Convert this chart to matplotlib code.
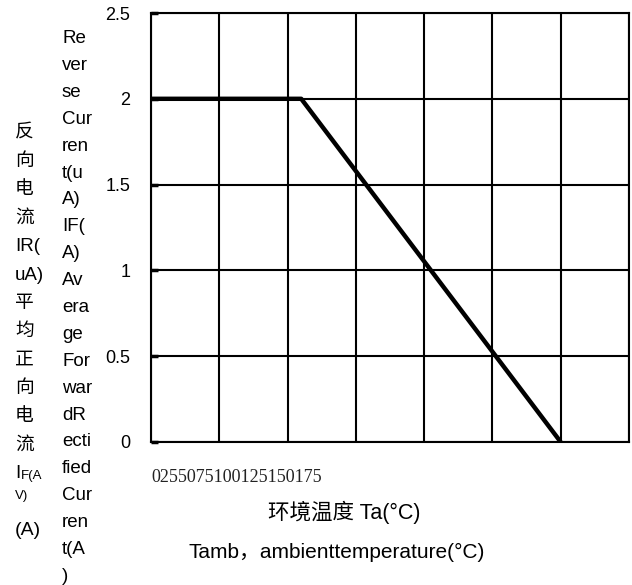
import matplotlib
matplotlib.use("Agg")
import matplotlib.pyplot as plt

plt.rcParams['font.family'] = ['Liberation Sans', 'Noto Sans CJK SC', 'DejaVu Sans']

# 数据：降额曲线
temp = [0, 55, 150]
current = [2, 2, 0]
x_ticks = [0, 25, 50, 75, 100, 125, 150, 175]
y_ticks = [0, 0.5, 1, 1.5, 2, 2.5]
y_tick_labels = ['0', '0.5', '1', '1.5', '2', '2.5']

ylabel_cn = ['反', '向', '电', '流', 'IR(', 'uA)', '平', '均', '正', '向', '电', '流']
ylabel_en = ['Re', 'ver', 'se', 'Cur', 'ren', 't(u', 'A)', 'IF(', 'A)', 'Av', 'era',
             'ge', 'For', 'war', 'dR', 'ecti', 'fied', 'Cur', 'ren', 't(A', ')']
xlabel_cn = '环境温度 Ta(°C)'
xlabel_en = 'Tamb，ambienttemperature(°C)'

W, H = 632, 585
fig = plt.figure(figsize=(W / 100, H / 100), dpi=100)
ax = fig.add_axes([151 / W, 1 - 442 / H, (629 - 151) / W, (442 - 13) / H])

ax.plot(temp, current, color='black', linewidth=3.2, solid_capstyle='butt', zorder=3)

ax.set_xlim(0, 175)
ax.set_ylim(0, 2.5)
ax.set_xticks(x_ticks)
ax.set_xticklabels([])
ax.set_yticks(y_ticks)
ax.set_yticklabels(y_tick_labels, fontsize=13)
ax.tick_params(axis='y', direction='in', length=5, width=2.5, pad=15)
ax.tick_params(axis='x', length=0)
ax.grid(True, color='black', linewidth=1.5)
for s in ax.spines.values():
    s.set_linewidth(1.5)

# x 刻度标签挤在一起
ax.text(x_ticks[0], -0.082, ''.join(str(t) for t in x_ticks), transform=ax.get_xaxis_transform(),
        ha='left', va='center', fontsize=13, family='Liberation Serif', color='#222222')

fig.text(344 / W, 1 - 512 / H, xlabel_cn, ha='center', va='center', fontsize=15.5)
fig.text(337 / W, 1 - 552 / H, xlabel_en, ha='center', va='center', fontsize=15)

# 第一列纵轴标签
for i, s in enumerate(ylabel_cn):
    fig.text(15 / W, 1 - (133 + i * 28.4) / H, s, ha='left', va='center', fontsize=13.5)
y_sub = 133 + 12 * 28.4
fig.text(15 / W, 1 - y_sub / H, 'I', ha='left', va='center', fontsize=13.5)
fig.text(21 / W, 1 - (y_sub + 2) / H, 'F(A', ha='left', va='center', fontsize=9.5)
fig.text(15 / W, 1 - (y_sub + 22) / H, 'V)', ha='left', va='center', fontsize=9.5)
fig.text(15 / W, 1 - (133 + 14 * 28.4) / H, '(A)', ha='left', va='center', fontsize=14)

# 第二列纵轴标签
for i, s in enumerate(ylabel_en):
    fig.text(62 / W, 1 - (38.5 + i * 26.9) / H, s, ha='left', va='center', fontsize=13.5)

fig.savefig('out.png', dpi=100)
